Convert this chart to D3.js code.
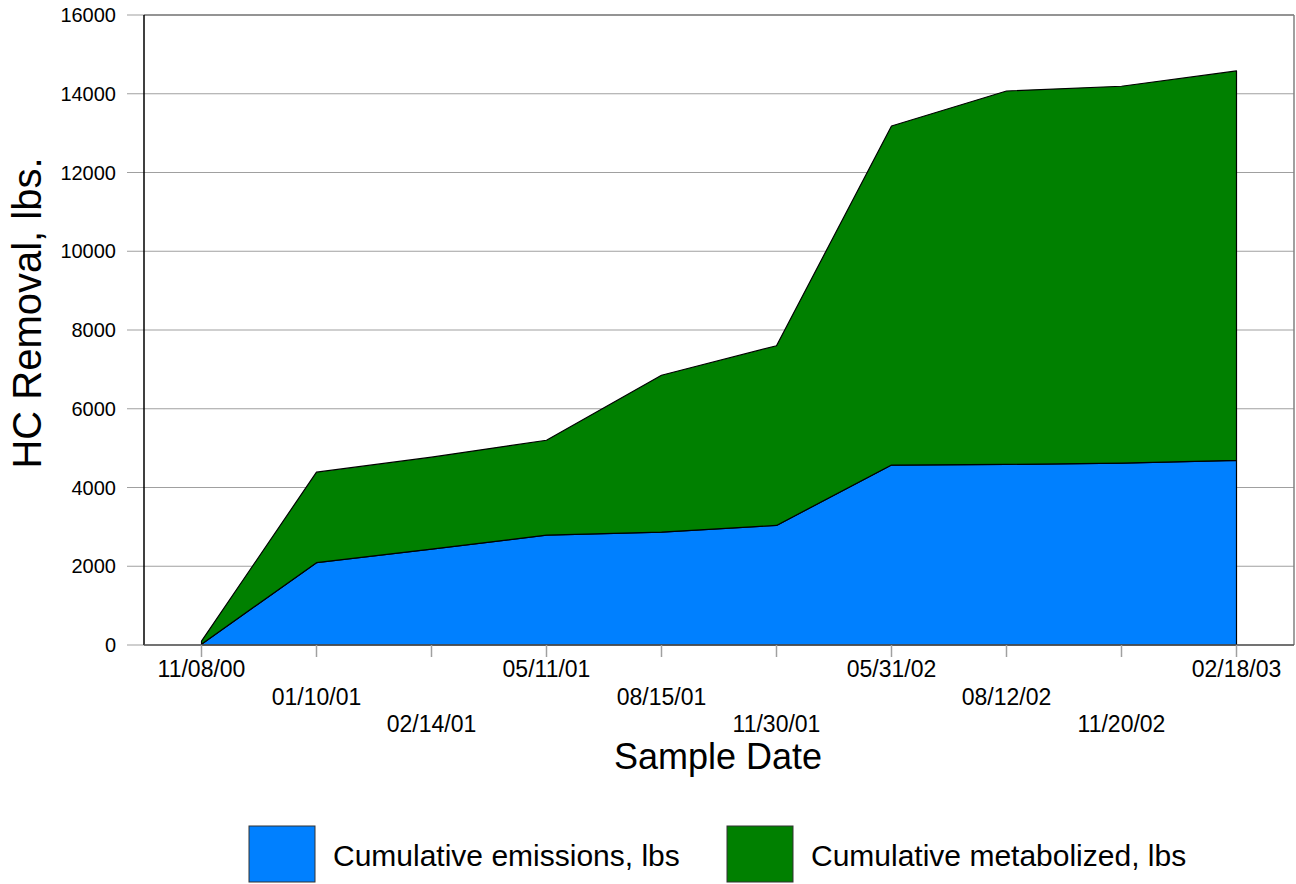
<!DOCTYPE html>
<html>
<head>
<meta charset="utf-8">
<script src="https://cdn.jsdelivr.net/npm/d3@7/dist/d3.min.js"></script>
<style>
  html, body { margin: 0; padding: 0; background: #fff; }
  svg { display: block; font-family: "Liberation Sans", Arial, sans-serif; }
</style>
</head>
<body>
<svg id="chart" width="1296" height="884"></svg>
<script>
const dates = ["11/08/00","01/10/01","02/14/01","05/11/01","08/15/01","11/30/01","05/31/02","08/12/02","11/20/02","02/18/03"];
const emissions = [20, 2090, 2435, 2790, 2867, 3037, 4570, 4587, 4620, 4689];
const metabolized = [80, 2300, 2335, 2410, 3983, 4563, 8610, 9483, 9570, 9891];
const yTicks = [0, 2000, 4000, 6000, 8000, 10000, 12000, 14000, 16000];
const seriesNames = ["Cumulative emissions, lbs", "Cumulative metabolized, lbs"];
const seriesColors = ["#0080FF", "#008000"];

const svg = d3.select("#chart");
const L = 144, R = 1294, T = 15, B = 645;

const x = d3.scalePoint().domain(dates).range([L, R]).padding(0.5);
const y = d3.scaleLinear().domain([0, 16000]).range([B, T]);

const rows = dates.map((d, i) => ({date: d, emissions: emissions[i], metabolized: metabolized[i]}));
const stack = d3.stack().keys(["emissions", "metabolized"])(rows);

// gridlines + y ticks
svg.append("g").selectAll("line").data(yTicks).join("line")
  .attr("x1", L - 17).attr("x2", R)
  .attr("y1", d => y(d)).attr("y2", d => y(d))
  .attr("stroke", "#a0a0a0").attr("stroke-width", 1.2);

// frame right/top
svg.append("line").attr("x1", R).attr("x2", R).attr("y1", T).attr("y2", B)
  .attr("stroke", "#808080").attr("stroke-width", 1.5);
svg.append("line").attr("x1", L).attr("x2", R).attr("y1", T).attr("y2", T)
  .attr("stroke", "#808080").attr("stroke-width", 1.5);

// areas
const area = d3.area().x(d => x(d.data.date)).y0(d => y(d[0])).y1(d => y(d[1]));
svg.append("g").selectAll("path").data(stack).join("path")
  .attr("d", area)
  .attr("fill", (d, i) => seriesColors[i])
  .attr("stroke", "#000").attr("stroke-width", 1.2).attr("stroke-linejoin", "round");

// axes lines
svg.append("line").attr("x1", L).attr("x2", L).attr("y1", T).attr("y2", B)
  .attr("stroke", "#000").attr("stroke-width", 1.5);
svg.append("line").attr("x1", L).attr("x2", R).attr("y1", B).attr("y2", B)
  .attr("stroke", "#555").attr("stroke-width", 1.5);

// x ticks
svg.append("g").selectAll("line").data(dates).join("line")
  .attr("x1", d => x(d)).attr("x2", d => x(d))
  .attr("y1", B).attr("y2", B + 12)
  .attr("stroke", "#a0a0a0").attr("stroke-width", 1.5);

// y labels
svg.append("g").selectAll("text").data(yTicks).join("text")
  .attr("x", 116).attr("y", d => y(d))
  .attr("dy", "0.35em").attr("text-anchor", "end")
  .attr("font-size", 20).text(d => d);

// x labels staggered
svg.append("g").selectAll("text").data(dates).join("text")
  .attr("x", d => x(d))
  .attr("y", (d, i) => 677 + (i % 3) * 27.5)
  .attr("text-anchor", "middle").attr("font-size", 23).text(d => d);

// axis titles
svg.append("text").attr("x", 718).attr("y", 769).attr("text-anchor", "middle")
  .attr("font-size", 36).text("Sample Date");
svg.append("text").attr("transform", "translate(41,313) rotate(-90)")
  .attr("text-anchor", "middle").attr("font-size", 40).text("HC Removal, lbs.");

// legend
const legX = [249, 727];
const lg = svg.append("g").selectAll("g").data(seriesNames).join("g")
  .attr("transform", (d, i) => `translate(${legX[i]},826)`);
lg.append("rect").attr("width", 66).attr("height", 56)
  .attr("fill", (d, i) => seriesColors[i]).attr("stroke", "#333").attr("stroke-width", 1);
lg.append("text").attr("x", 84).attr("y", 40).attr("font-size", 30).text(d => d);
</script>
</body>
</html>
